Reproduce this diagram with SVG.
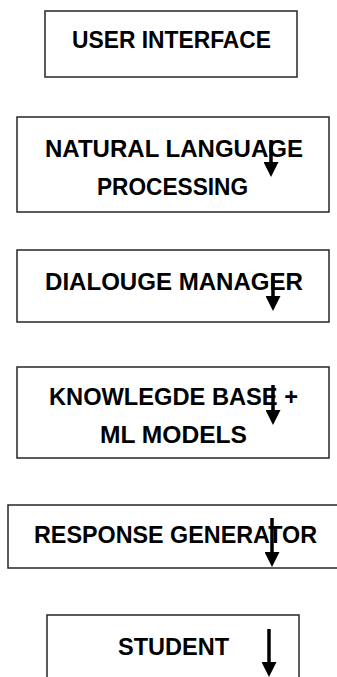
<svg xmlns="http://www.w3.org/2000/svg" width="337" height="677" viewBox="0 0 337 677">
  <defs>
    <style>
      .box { fill: #ffffff; stroke: #262626; stroke-width: 1.5; }
      .lbl { font-family: "Liberation Sans", Arial, sans-serif; font-weight: bold; font-size: 24px; fill: #000000; }
      .conn { stroke: #000000; stroke-width: 3.5; fill: none; marker-end: url(#head); }
    </style>
    <marker id="head" viewBox="0 0 15 15" markerWidth="15" markerHeight="15" refX="0" refY="7.5" orient="auto" markerUnits="userSpaceOnUse">
      <path d="M0,0 L15,7.5 L0,15 z" fill="#000000"/>
    </marker>
  </defs>
  <rect width="337" height="677" fill="#ffffff"/>

  <g id="user-interface">
    <rect class="box" x="45" y="11" width="252" height="66"/>
    <text class="lbl" x="72" y="48" textLength="199" lengthAdjust="spacingAndGlyphs">USER INTERFACE</text>
  </g>

  <g id="nlp">
    <rect class="box" x="17" y="117" width="312" height="95"/>
    <text class="lbl" x="45" y="157" textLength="258" lengthAdjust="spacingAndGlyphs">NATURAL LANGUAGE</text>
    <text class="lbl" x="97" y="195" textLength="151" lengthAdjust="spacingAndGlyphs">PROCESSING</text>
  </g>

  <g id="dialogue-manager">
    <rect class="box" x="17" y="250" width="312" height="72"/>
    <text class="lbl" x="45" y="290" textLength="258" lengthAdjust="spacingAndGlyphs">DIALOUGE MANAGER</text>
  </g>

  <g id="knowledge-base">
    <rect class="box" x="17" y="367" width="312" height="91"/>
    <text class="lbl" x="49" y="405" textLength="249" lengthAdjust="spacingAndGlyphs">KNOWLEGDE BASE +</text>
    <text class="lbl" x="100" y="443" textLength="147" lengthAdjust="spacingAndGlyphs">ML MODELS</text>
  </g>

  <g id="response-generator">
    <rect class="box" x="8" y="505" width="345" height="63"/>
    <text class="lbl" x="34" y="543" textLength="283" lengthAdjust="spacingAndGlyphs">RESPONSE GENERATOR</text>
  </g>

  <g id="student">
    <rect class="box" x="47" y="615" width="252" height="80"/>
    <text class="lbl" x="118" y="655" textLength="111" lengthAdjust="spacingAndGlyphs">STUDENT</text>
  </g>

  <g id="connectors">
    <line class="conn" x1="271" y1="140" x2="271" y2="162"/>
    <line class="conn" x1="273" y1="276" x2="273" y2="296"/>
    <line class="conn" x1="273" y1="385" x2="273" y2="410"/>
    <line class="conn" x1="272" y1="518" x2="272" y2="552"/>
    <line class="conn" x1="269" y1="629" x2="269" y2="662"/>
  </g>
</svg>
